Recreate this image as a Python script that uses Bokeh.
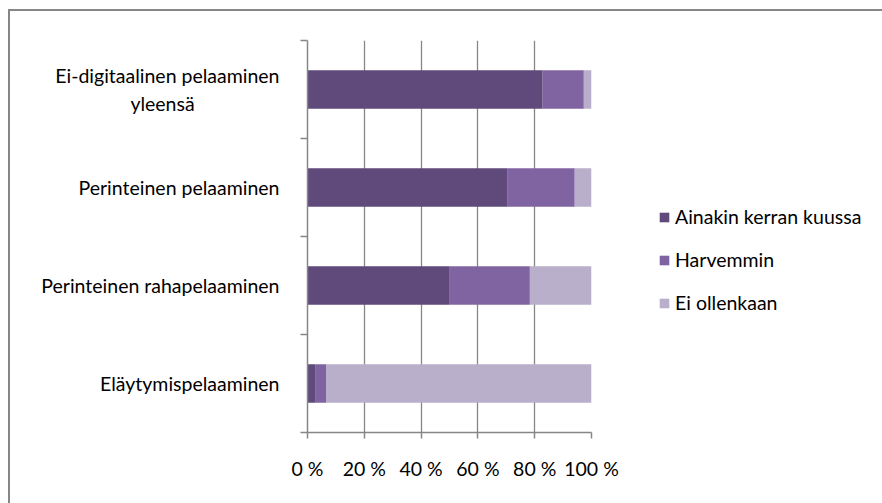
from bokeh.plotting import figure
from bokeh.models import (ColumnDataSource, FixedTicker, Legend, LegendItem, Range1d)
from bokeh.embed import file_html
from bokeh.resources import INLINE

# Categories listed bottom to top
categories = [
    "Eläytymispelaaminen",
    "Perinteinen rahapelaaminen",
    "Perinteinen pelaaminen",
    "Ei-digitaalinen pelaaminen\nyleensä",
]
series_names = ["Ainakin kerran kuussa", "Harvemmin", "Ei ollenkaan"]
monthly = [2.9, 50.1, 70.5, 82.8]
rarely = [3.8, 28.2, 23.6, 14.5]
never = [93.3, 21.7, 5.9, 2.7]
x_ticks = [0, 20, 40, 60, 80, 100]
x_tick_labels = ["0 %", "20 %", "40 %", "60 %", "80 %", "100 %"]

colors = ["#604A7B", "#8064A2", "#B9AFCB"]
grey = "#868686"
font = "Lato"
fsize = "19.5px"


def centred(label):
    # axis labels right-align their lines; pad short lines so they sit centred
    lines = label.split("\n")
    if len(lines) == 1:
        return label
    longest = max(len(s) for s in lines)
    return "\n".join(s + "\u00a0" * int(round((longest - len(s)) * 0.9)) for s in lines)


ypos = [i + 0.5 for i in range(len(categories))]
source = ColumnDataSource(dict(y=ypos, m=monthly, r=rarely, n=never))

p = figure(frame_width=284, frame_height=392, output_backend="svg", toolbar_location=None,
           x_range=Range1d(0, 100), y_range=Range1d(0, len(categories)),
           min_border_left=297, min_border_right=291,
           min_border_top=29, min_border_bottom=71)
p.margin = (9, 0, 0, 8)
p.styles = {"border-top": f"2px solid {grey}", "border-left": f"2px solid {grey}"}
p.outline_line_color = None
p.background_fill_color = "white"
p.border_fill_color = "white"

renderers = p.hbar_stack(["m", "r", "n"], y="y", height=0.395, color=colors,
                         line_color=None, source=source)

# x axis
p.xaxis.ticker = FixedTicker(ticks=x_ticks)
p.xaxis.major_label_overrides = {t: l for t, l in zip(x_ticks, x_tick_labels)}
p.xaxis.axis_line_color = grey
p.xaxis.axis_line_width = 1.5
p.xaxis.major_tick_line_color = grey
p.xaxis.major_tick_line_width = 1.5
p.xaxis.major_tick_out = 6
p.xaxis.major_tick_in = 0
p.xaxis.minor_tick_line_color = None
p.xaxis.major_label_standoff = 18
p.xaxis.major_label_text_font = font
p.xaxis.major_label_text_font_size = fsize
p.xaxis.major_label_text_color = "black"

# y axis: labels at band centres, ticks at band boundaries
p.yaxis.ticker = FixedTicker(ticks=ypos, minor_ticks=list(range(len(categories) + 1)))
p.yaxis.major_label_overrides = {y: centred(c) for y, c in zip(ypos, categories)}
p.yaxis.axis_line_color = grey
p.yaxis.axis_line_width = 1.5
p.yaxis.major_tick_line_color = None
p.yaxis.minor_tick_line_color = grey
p.yaxis.minor_tick_line_width = 1.5
p.yaxis.minor_tick_out = 7
p.yaxis.minor_tick_in = 0
p.yaxis.major_label_standoff = 21
p.yaxis.major_label_text_font = font
p.yaxis.major_label_text_font_size = fsize
p.yaxis.major_label_text_color = "black"

p.xgrid.ticker = FixedTicker(ticks=x_ticks)
p.xgrid.grid_line_color = grey
p.xgrid.grid_line_width = 1.3
p.ygrid.grid_line_color = None

legend = Legend(items=[LegendItem(label=n, renderers=[r]) for n, r in zip(series_names, renderers)],
                location=(67, 118), glyph_width=12, glyph_height=12,
                label_standoff=5, spacing=20, padding=0, margin=0,
                label_text_font=font, label_text_font_size=fsize,
                label_text_color="black", border_line_color=None,
                background_fill_alpha=0)
p.add_layout(legend, "right")

open("out.html", "w").write(file_html(p, INLINE))
